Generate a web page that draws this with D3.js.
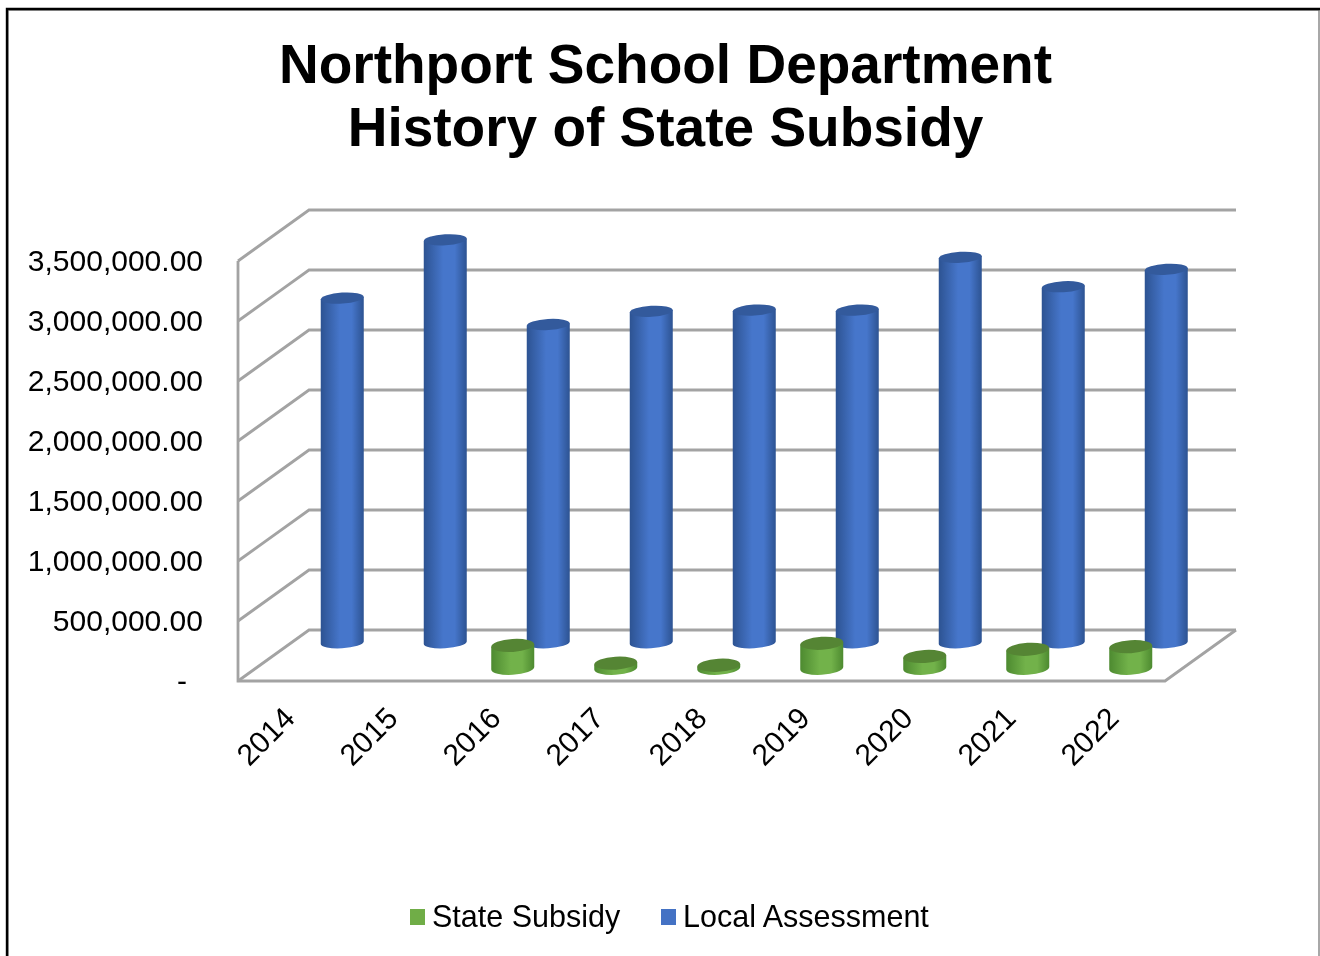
<!DOCTYPE html>
<html>
<head>
<meta charset="utf-8">
<script src="https://cdn.jsdelivr.net/npm/d3@7"></script>
<style>
    html, body { margin: 0; padding: 0; background: #fff; overflow: hidden; }
    svg { display: block; font-family: "Liberation Sans", Arial, sans-serif; }
    .grid { stroke: #a3a3a3; stroke-width: 2.8; fill: none; }
</style>
</head>
<body>
<div id="chart"></div>
<script>
const years = ['2014', '2015', '2016', '2017', '2018', '2019', '2020', '2021', '2022'];
const stateSubsidy = [0, 0, 190000, 42000, 25000, 208000, 98000, 158000, 180000];
const localAssessment = [2872000, 3358000, 2652000, 2762000, 2772000, 2772000, 3212000, 2967000, 3112000];
const yTicks = [0, 500000, 1000000, 1500000, 2000000, 2500000, 3000000, 3500000];
const seriesNames = ['State Subsidy', 'Local Assessment'];
const titleLines = ['Northport School Department', 'History of State Subsidy'];

const width = 1320, height = 956;
const svg = d3.select('#chart').append('svg')
    .attr('width', width)
    .attr('height', height);

const defs = svg.append('defs');
const colors = {
    'State Subsidy': { edge: '#4d8a30', mid: '#72b24a', top: '#558534', swatch: '#70ad47', id: 'greenBody' },
    'Local Assessment': { edge: '#2d5392', mid: '#4676cb', top: '#335a9c', swatch: '#4472c4', id: 'blueBody' }
};
seriesNames.forEach(name => {
    const c = colors[name];
    const grad = defs.append('linearGradient').attr('id', c.id);
    [[0, c.edge], [0.45, c.mid], [0.72, c.mid], [1, c.edge]].forEach(s => {
        grad.append('stop').attr('offset', s[0]).attr('stop-color', s[1]);
    });
});

// Front plane of the 3D box, the rest is offset by depth
const x = d3.scaleBand().domain(years).range([238, 1165]);
const y = d3.scaleLinear().domain([0, 3500000]).range([681, 261]);
const depth = d3.scaleBand().domain(seriesNames).range([0, 1]);
const depthX = 71, depthY = -51;

// Border stays sharp, everything else is a little soft like the source
svg.append('path').attr('d', `M8 956V10H1319V956`).attr('fill', 'none').attr('stroke', '#8c8c8c').attr('stroke-width', 1.5);
svg.append('path').attr('d', `M7 956V9H1320`).attr('fill', 'none').attr('stroke', '#000').attr('stroke-width', 2.4);

const plot = svg.append('g').style('filter', 'blur(0.5px)');

// Title
plot.selectAll('.title')
    .data(titleLines)
    .enter()
    .append('text')
    .attr('class', 'title')
    .attr('x', 665.5)
    .attr('y', (d, i) => 83 + i * 63)
    .attr('text-anchor', 'middle')
    .attr('font-size', 55)
    .attr('font-weight', 'bold')
    .text(d => d);

// Walls
const walls = plot.append('g');
yTicks.forEach(t => {
    walls.append('path')
        .attr('class', 'grid')
        .attr('d', `M${x.range()[0]} ${y(t)}L${x.range()[0] + depthX} ${y(t) + depthY}H${x.range()[1] + depthX}`);
});
walls.append('path')
    .attr('class', 'grid')
    .attr('d', `M${x.range()[0]} ${y(yTicks[yTicks.length - 1])}V${y(0)}H${x.range()[1]}L${x.range()[1] + depthX} ${y(0) + depthY}`);

// Axes
const yAxis = d3.axisLeft(y)
    .tickValues(yTicks)
    .tickSize(0)
    .tickPadding(35)
    .tickFormat(d => d === 0 ? '-' : d3.format(',.2f')(d));
const yG = plot.append('g').attr('transform', `translate(${x.range()[0]},0)`).call(yAxis);
yG.select('.domain').remove();
yG.selectAll('text')
    .attr('font-size', 30)
    .attr('font-family', null)
    .attr('fill', '#000')
    .attr('dy', '0.3em')
    .attr('dx', d => d === 0 ? -16 : 0); // accounting format pushes the dash left

const xAxis = d3.axisBottom(x).tickSize(0).tickPadding(0);
const xG = plot.append('g').attr('transform', `translate(0,${y(0)})`).call(xAxis);
xG.select('.domain').remove();
xG.selectAll('text')
    .attr('font-size', 30)
    .attr('font-family', null)
    .attr('fill', '#000')
    .attr('text-anchor', 'end')
    .attr('dy', '0')
    .attr('y', 0)
    .attr('transform', 'translate(7,39) rotate(-45)');

// Cylinders, the ellipses lean a few degrees because of the perspective
function drawSeries(name, values, ry) {
    const c = colors[name];
    const rx = 21.5, lean = 1.2, tilt = -3.5;
    const off = depth(name) + depth.bandwidth() / 2;
    const rows = years.map((year, i) => ({ year, value: values[i] })).filter(d => d.value > 0);
    const g = plot.append('g').selectAll('g').data(rows).enter().append('g')
        .attr('transform', d => `translate(${x(d.year) + x.bandwidth() / 2 + off * depthX - 0.5},${off * depthY})`);

    g.append('path')
        .attr('fill', `url(#${c.id})`)
        .attr('d', d => `M${-rx} ${y(d.value) + lean}V${y(0) + lean}A${rx} ${ry} ${tilt} 0 0 ${rx} ${y(0) - lean}V${y(d.value) - lean}Z`);
    g.append('ellipse')
        .attr('rx', rx)
        .attr('ry', ry)
        .attr('fill', c.top)
        .attr('transform', d => `translate(0,${y(d.value)}) rotate(${tilt})`);
}
drawSeries('Local Assessment', localAssessment, 5.5);
drawSeries('State Subsidy', stateSubsidy, 6.5);

// Legend
const legendX = { 'State Subsidy': 410, 'Local Assessment': 661 };
const legend = plot.append('g').selectAll('g').data(seriesNames).enter().append('g')
    .attr('transform', d => `translate(${legendX[d]},909)`);
legend.append('rect')
    .attr('width', 15)
    .attr('height', 16)
    .attr('fill', d => colors[d].swatch);
legend.append('text')
    .attr('x', 22)
    .attr('y', 18)
    .attr('font-size', 30.5)
    .text(d => d);
</script>
</body>
</html>
